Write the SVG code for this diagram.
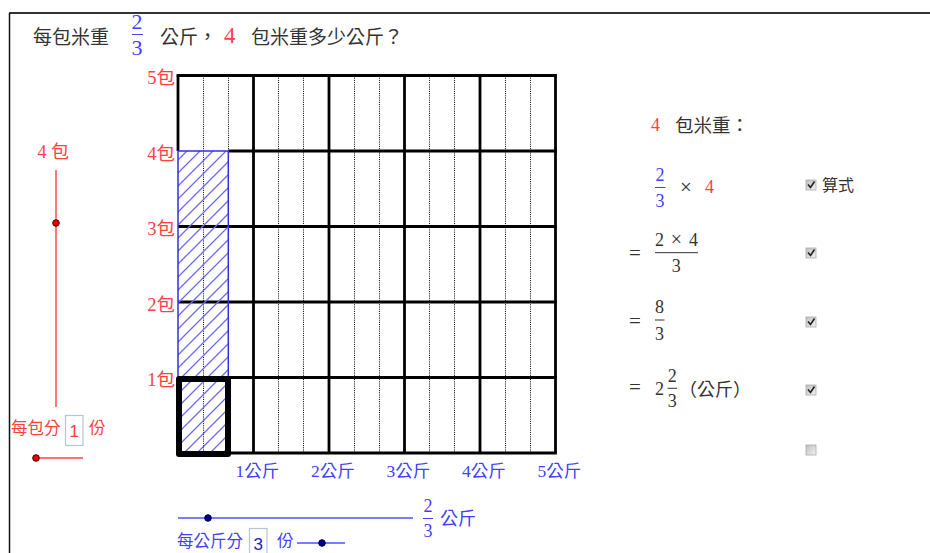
<svg xmlns="http://www.w3.org/2000/svg" width="930" height="553" viewBox="0 0 930 553">
<defs>
<pattern id="hatch" patternUnits="userSpaceOnUse" width="13" height="13">
<path d="M-3,3 L3,-3 M0,13 L13,0 M10,16 L16,10" stroke="#6a6aff" stroke-width="1.3" fill="none"/>
</pattern>
<linearGradient id="cbg" x1="0" y1="0" x2="1" y2="1">
<stop offset="0" stop-color="#bdbdbd"/>
<stop offset="1" stop-color="#f4f4f4"/>
</linearGradient>
</defs>
<style>
.cjk{font-family:"Noto Sans CJK TC","Noto Sans CJK SC",sans-serif;}
.ser{font-family:"Liberation Serif","Noto Sans CJK TC",serif;}
.dk{fill:#333333;}
.rd{fill:#ff4040;}
.bl{fill:#4040ff;}
.gl{stroke:#000;stroke-width:2.8;fill:none;}
.dot{stroke:#000;stroke-width:1;stroke-dasharray:1 1.2;fill:none;}
.cb{fill:url(#cbg);stroke:#aaa;stroke-width:0.8;}
.ck{fill:none;stroke:#222;stroke-width:1.6;}
</style>
<rect x="0" y="0" width="930" height="553" fill="#fff"/>
<g id="frame">
<line x1="9" y1="13" x2="930" y2="13" stroke="#333" stroke-width="2"/>
<line x1="9.5" y1="13" x2="9.5" y2="553" stroke="#111" stroke-width="1.5"/>
</g>
<g id="title">
<text x="33" y="44" class="cjk dk" font-size="19">每包米重</text>
<text x="137" y="29.3" class="ser bl" font-size="22" text-anchor="middle">2</text>
<line x1="132" y1="34.5" x2="143" y2="34.5" stroke="#4040ff" stroke-width="1"/>
<text x="137" y="54.5" class="ser bl" font-size="22" text-anchor="middle">3</text>
<text x="160" y="44" class="cjk dk" font-size="19">公斤，</text>
<text x="224" y="42.7" class="ser rd" font-size="23">4</text>
<text x="251" y="44" class="cjk dk" font-size="19">包米重多少公斤？</text>
</g>
<g id="grid">
<g class="dot">
<line x1="203.5" y1="75.5" x2="203.5" y2="453"/>
<line x1="228.5" y1="75.5" x2="228.5" y2="453"/>
<line x1="278.5" y1="75.5" x2="278.5" y2="453"/>
<line x1="303.5" y1="75.5" x2="303.5" y2="453"/>
<line x1="354.5" y1="75.5" x2="354.5" y2="453"/>
<line x1="379.5" y1="75.5" x2="379.5" y2="453"/>
<line x1="429.5" y1="75.5" x2="429.5" y2="453"/>
<line x1="454.5" y1="75.5" x2="454.5" y2="453"/>
<line x1="505.5" y1="75.5" x2="505.5" y2="453"/>
<line x1="530.5" y1="75.5" x2="530.5" y2="453"/>
</g>
<g class="gl">
<line x1="178" y1="75.5" x2="178" y2="151"/>
<line x1="253.5" y1="75.5" x2="253.5" y2="453"/>
<line x1="329" y1="75.5" x2="329" y2="453"/>
<line x1="404.5" y1="75.5" x2="404.5" y2="453"/>
<line x1="480" y1="75.5" x2="480" y2="453"/>
<line x1="555.5" y1="75.5" x2="555.5" y2="453"/>
<line x1="176.6" y1="75.5" x2="556.9" y2="75.5"/>
<line x1="228.3" y1="151" x2="556.9" y2="151"/>
<line x1="178" y1="226.5" x2="556.9" y2="226.5"/>
<line x1="178" y1="302" x2="556.9" y2="302"/>
<line x1="228" y1="377.5" x2="556.9" y2="377.5"/>
<line x1="228" y1="453" x2="556.9" y2="453"/>
</g>
</g>
<g id="hatched">
<rect x="178" y="151" width="50.3" height="302" fill="url(#hatch)" stroke="#3030e0" stroke-width="1.5"/>
</g>
<g id="unit">
<rect x="179" y="379" width="49" height="75" fill="none" stroke="#000" stroke-width="6" stroke-linejoin="round"/>
</g>
<g id="rowlabels" class="ser rd" font-size="18.5" text-anchor="end">
<text x="175" y="84">5包</text>
<text x="175" y="159.5">4包</text>
<text x="175" y="235">3包</text>
<text x="175" y="310.5">2包</text>
<text x="175" y="386">1包</text>
</g>
<g id="collabels" class="ser bl" font-size="17.5">
<text x="235.5" y="477">1公斤</text>
<text x="311" y="477">2公斤</text>
<text x="386.5" y="477">3公斤</text>
<text x="462" y="477">4公斤</text>
<text x="537.5" y="477">5公斤</text>
</g>
<g id="sliderBags">
<text x="37.5" y="158" class="ser rd" font-size="18">4 包</text>
<line x1="56" y1="170" x2="56" y2="407" stroke="#ff4040" stroke-width="1.4"/>
<circle cx="56" cy="223" r="3.3" fill="#e00" stroke="#400" stroke-width="1"/>
</g>
<g id="splitBag">
<text x="11" y="434" class="cjk rd" font-size="16.5">每包分</text>
<rect x="65.5" y="415.5" width="17.5" height="30" fill="#fff" stroke="#b5c4d6" stroke-width="1.2"/>
<text x="74.2" y="437" font-family="Liberation Sans, sans-serif" font-size="17" class="rd" text-anchor="middle">1</text>
<text x="89" y="434" class="cjk rd" font-size="16.5">份</text>
<line x1="36" y1="458" x2="83" y2="458" stroke="#ff4040" stroke-width="1.4"/>
<circle cx="36" cy="458" r="3.3" fill="#e00" stroke="#400" stroke-width="1"/>
</g>
<g id="sliderKg">
<line x1="178" y1="518" x2="413" y2="518" stroke="#5050ff" stroke-width="1.4"/>
<circle cx="208" cy="518" r="3.3" fill="#00008b" stroke="#000040" stroke-width="1"/>
<text x="428" y="511.7" class="ser bl" font-size="18" text-anchor="middle">2</text>
<line x1="423" y1="518.5" x2="433" y2="518.5" stroke="#4040ff" stroke-width="1"/>
<text x="428" y="536.7" class="ser bl" font-size="18" text-anchor="middle">3</text>
<text x="440" y="525" class="cjk bl" font-size="18">公斤</text>
</g>
<g id="splitKg">
<text x="177" y="547" class="cjk bl" font-size="16.5">每公斤分</text>
<rect x="249.5" y="528.5" width="17.5" height="30" fill="#fff" stroke="#b5c4d6" stroke-width="1.2"/>
<text x="258.2" y="550" font-family="Liberation Sans, sans-serif" font-size="17" fill="#2020c0" text-anchor="middle">3</text>
<text x="277" y="547" class="cjk bl" font-size="16.5">份</text>
<line x1="297" y1="543" x2="345" y2="543" stroke="#5050ff" stroke-width="1.4"/>
<circle cx="322" cy="543" r="3.3" fill="#00008b" stroke="#000040" stroke-width="1"/>
</g>
<g id="heading">
<text x="651" y="131" class="ser rd" font-size="18">4</text>
<text x="675" y="132" class="cjk dk" font-size="18.5">包米重：</text>
</g>
<g id="expr">
<text x="660" y="181" class="ser bl" font-size="18" text-anchor="middle">2</text>
<line x1="655" y1="187.5" x2="665.5" y2="187.5" stroke="#4040ff" stroke-width="1"/>
<text x="660" y="207" class="ser bl" font-size="18" text-anchor="middle">3</text>
<text x="686" y="194" class="ser dk" font-size="21" text-anchor="middle">×</text>
<text x="705" y="193.3" class="ser rd" font-size="18">4</text>
</g>
<g id="step1">
<text x="635" y="259.5" class="ser dk" font-size="21" text-anchor="middle">=</text>
<text x="659.5" y="245.7" class="ser dk" font-size="18" text-anchor="middle">2</text>
<text x="676.5" y="246.2" class="ser dk" font-size="20" text-anchor="middle">×</text>
<text x="693.5" y="245.7" class="ser dk" font-size="18" text-anchor="middle">4</text>
<line x1="655" y1="252.7" x2="698" y2="252.7" stroke="#333" stroke-width="1"/>
<text x="676.3" y="271.7" class="ser dk" font-size="18" text-anchor="middle">3</text>
</g>
<g id="step2">
<text x="635" y="327.5" class="ser dk" font-size="21" text-anchor="middle">=</text>
<text x="659.5" y="313.3" class="ser dk" font-size="18" text-anchor="middle">8</text>
<line x1="655" y1="320" x2="664.5" y2="320" stroke="#333" stroke-width="1"/>
<text x="659.5" y="340" class="ser dk" font-size="18" text-anchor="middle">3</text>
</g>
<g id="step3">
<text x="635" y="394" class="ser dk" font-size="21" text-anchor="middle">=</text>
<text x="659.5" y="395" class="ser dk" font-size="18" text-anchor="middle">2</text>
<text x="672.3" y="381.7" class="ser dk" font-size="18" text-anchor="middle">2</text>
<line x1="667.5" y1="388.3" x2="677" y2="388.3" stroke="#333" stroke-width="1"/>
<text x="672.3" y="406.7" class="ser dk" font-size="18" text-anchor="middle">3</text>
<text x="679" y="395.5" class="cjk dk" font-size="18">（公斤）</text>
</g>
<g id="cb1">
<rect x="806" y="180" width="10" height="10" class="cb"/>
<path d="M808,184.5 L810.5,187.5 L814.5,181.5" class="ck"/>
<text x="822" y="191" class="cjk dk" font-size="16">算式</text>
</g>
<g id="cb2">
<rect x="806" y="248" width="10" height="10" class="cb"/>
<path d="M808,252.5 L810.5,255.5 L814.5,249.5" class="ck"/>
</g>
<g id="cb3">
<rect x="806" y="317" width="10" height="10" class="cb"/>
<path d="M808,321.5 L810.5,324.5 L814.5,318.5" class="ck"/>
</g>
<g id="cb4">
<rect x="806" y="385" width="10" height="10" class="cb"/>
<path d="M808,389.5 L810.5,392.5 L814.5,386.5" class="ck"/>
</g>
<g id="cb5">
<rect x="806" y="445" width="10" height="10" class="cb"/>
</g>
</svg>
